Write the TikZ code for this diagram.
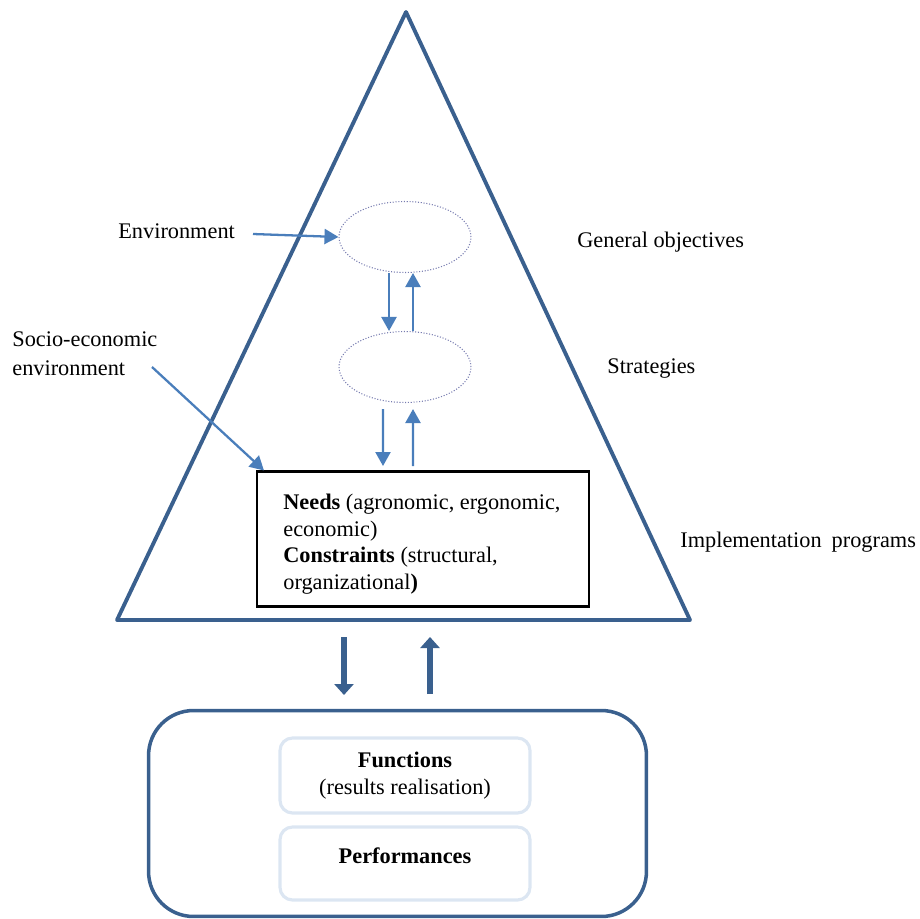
\documentclass[tikz,border=0pt]{standalone}
\usepackage{fontspec}
\setmainfont{Liberation Serif}
\usetikzlibrary{arrows.meta}
\usetikzlibrary{shapes.geometric}
\definecolor{pyramid}{RGB}{58,96,142}
\definecolor{flow}{RGB}{74,126,187}
\definecolor{ringline}{RGB}{120,124,176}
\definecolor{paleblue}{RGB}{220,230,242}
\tikzset{every node/.style={font=\fontsize{12.7}{15}\selectfont},
	label text/.style={inner sep=0pt},
	level ring/.style={ellipse,draw=ringline,densely dotted,line width=0.6pt,minimum width=2.64cm,minimum height=1.42cm},
	thin flow/.style={draw=flow,line width=1.3pt,-{Triangle[width=0.3cm,length=0.28cm]}},
	thick flow/.style={draw=pyramid,line width=3.6pt,-{Triangle[width=0.38cm,length=0.22cm]}},
	inner box/.style={draw=paleblue,line width=1.8pt,rounded corners=0.25cm,minimum width=5cm}}

\begin{document}
\begin{tikzpicture}[x=0.02cm,y=-0.02cm]
		\useasboundingbox (0,0) rectangle (920,919);
		% pyramid
		\draw[pyramid,line width=2.2pt,line join=round] (406,12) -- (690,620) -- (117,620) -- cycle;
		\begin{scope}[every node/.style={font=\fontsize{12.7}{16}\selectfont,label text}]
			\node[anchor=base west] (envtext) at (118,238) {Environment};
			\node[anchor=base west,align=left] (socio) at (12,375) {Socio-economic\\environment};
			\node[anchor=base west] (objtext) at (577,247) {General objectives};
			\node[anchor=base west] (strattext) at (607,373) {Strategies};
			\node[anchor=base west] (impltext) at (680,547) {Implementation\hspace{0.2em} programs};
		\end{scope}
		\node[level ring] (obj) at (405,237) {};
		\node[level ring] (strat) at (405,367) {};
		\node[draw,line width=1.2pt,minimum width=6.64cm,minimum height=2.7cm] (needs) at (423,539) {};
		\node[label text,anchor=base west,align=left] (needstext) at (283,589)
			{\textbf{Needs} (agronomic, ergonomic,\\economic)\\\textbf{Constraints} (structural,\\organizational\textbf{)}};
		\node[draw=pyramid,line width=2pt,rounded corners=0.9cm,minimum width=9.96cm,minimum height=4.12cm] (system) at (397.5,813.5) {};
		\node[inner box,minimum height=1.5cm,align=center] (func) at (405,775.5) {\textbf{Functions}\\(results realisation)};
		\node[inner box,minimum height=1.46cm] (perf) at (405,863.5) {};
		\node[label text] (perftext) at (405,856) {\textbf{Performances}};
		% flows
		\coordinate (envend) at (253,234);
		\coordinate (socioend) at (152,367);
		\coordinate (objdown) at ([xshift=-0.32cm]obj.south);
		\coordinate (stratin) at ([xshift=-0.32cm]strat.north);
		\coordinate (stratout) at ([xshift=0.16cm]strat.north);
		\coordinate (objup) at ([xshift=0.16cm]obj.south);
		\coordinate (stratdown) at ([xshift=-0.44cm,yshift=-0.12cm]strat.south);
		\coordinate (needsin) at (383,466);
		\coordinate (needsout) at (413,466);
		\coordinate (stratup) at ([xshift=0.16cm,yshift=-0.12cm]strat.south);
		\draw[thin flow] (envend) -- (obj.west);
		\draw[thin flow] (socioend) -- ([xshift=0.16cm]needs.north west);
		\draw[thin flow] (objdown) -- (stratin);
		\draw[thin flow] (stratout) -- (objup);
		\draw[thin flow] (stratdown) -- (needsin);
		\draw[thin flow] (needsout) -- (stratup);
		\coordinate (downtop) at (344,637);
		\coordinate (downtip) at (344,695);
		\coordinate (upfoot) at (430,694);
		\coordinate (uptip) at (430,637);
		\draw[thick flow] (downtop) -- (downtip);
		\draw[thick flow] (upfoot) -- (uptip);
	\end{tikzpicture}
\end{document}
